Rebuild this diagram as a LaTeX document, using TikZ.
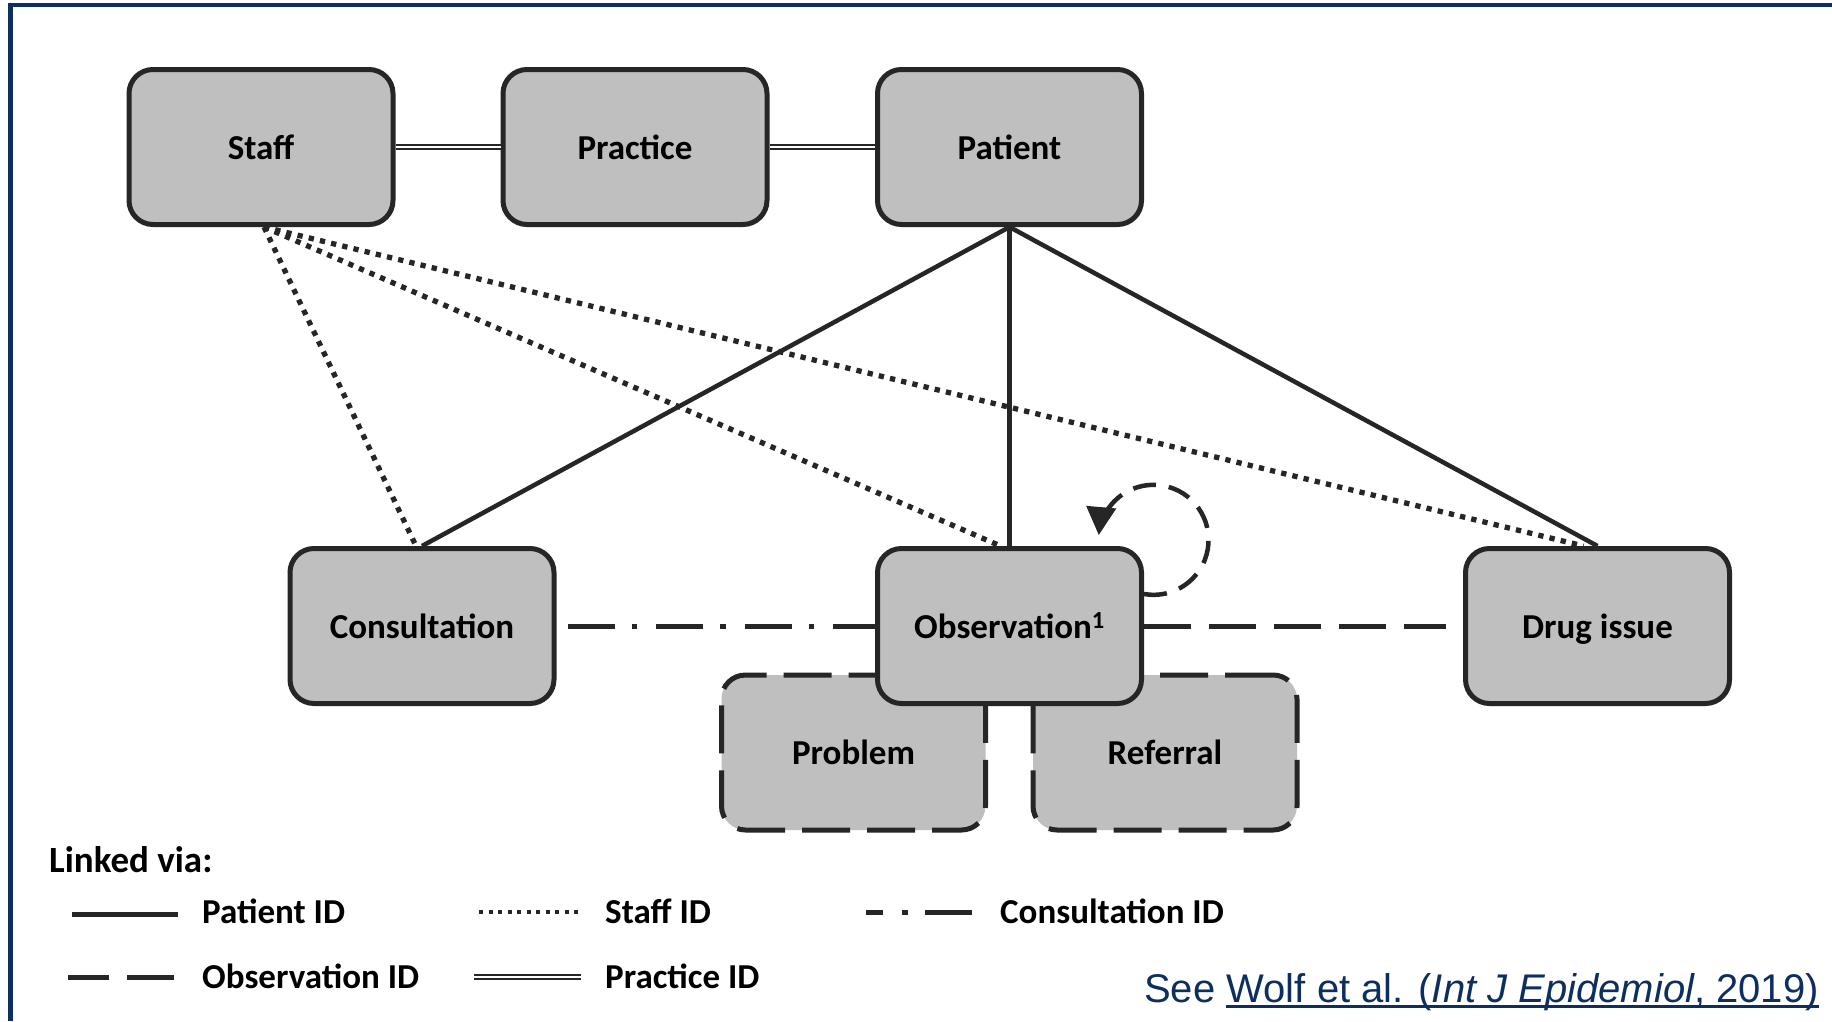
\documentclass[tikz,border=0pt]{standalone}
\usepackage{fontspec}
\setmainfont{Carlito}
\newfontfamily\citefont{Liberation Sans}
\usetikzlibrary{arrows.meta}
\definecolor{ink}{HTML}{262626}
\definecolor{boxgray}{HTML}{BFBFBF}
\definecolor{navy}{RGB}{12,47,96}
\begin{document}
\begin{tikzpicture}[x=1pt,y=-1pt,
  lbl/.style={font=\fontsize{35}{42}\selectfont\bfseries},
  entity/.style={lbl, draw=ink, fill=boxgray, line width=5pt, rounded corners=24pt,
    minimum width=264pt, minimum height=155pt, inner sep=0pt,
    text height=24pt, text depth=0pt},
  optentity/.style={entity, dash pattern=on 48pt off 17pt},
  patientlink/.style={draw=ink, line width=4.5pt},
  stafflink/.style={draw=ink, line width=5.3pt, dash pattern=on 5.3pt off 6.2pt},
  consultlink/.style={draw=ink, line width=5pt, dash pattern=on 47pt off 17pt on 5.5pt off 19pt},
  obslink/.style={draw=ink, line width=5pt, dash pattern=on 47pt off 18pt},
  practicelink/.style={draw=ink, double=white, line width=2.2pt, double distance=2.5pt},
  legendtext/.style={lbl, anchor=west, inner sep=0pt},
  citetext/.style={anchor=base east, inner sep=0pt, text=navy, font=\citefont\fontsize{40}{48}\selectfont}
]
\useasboundingbox (0,0) rectangle (1832,1021);
\fill[white] (0,0) rectangle (1832,1021);

% frame
\draw[navy, line width=4.5pt] (10.5,1021) -- (10.5,5) -- (1832,5);

% entities
\node[entity] (staff) at (261,147) {Staff};
\node[entity] (practice) at (635,147) {Practice};
\node[entity] (patient) at (1009.5,147) {Patient};
\node[optentity] (problem) at (853.5,752.5) {Problem};
\node[optentity] (referral) at (1165,752.5) {Referral};
\node[entity] (consult) at (422,626) {Consultation};
\node[entity] (obs) at (1009.5,626) {Observation\textsuperscript{1}};
\node[entity] (drug) at (1597.5,626) {Drug issue};

% practice ID links
\draw[practicelink] (staff.east) -- (practice.west);
\draw[practicelink] (practice.east) -- (patient.west);

% patient ID links
\draw[patientlink] (patient.south) -- (consult.north);
\draw[patientlink] (patient.south) -- (obs.north);
\draw[patientlink] (patient.south) -- (drug.north);

% staff ID links
\draw[stafflink] ([xshift=3pt]staff.south) -- ([xshift=-6pt]consult.north);
\draw[stafflink] ([xshift=3pt]staff.south) -- ([xshift=-9pt]obs.north);
\draw[stafflink] ([xshift=3pt]staff.south) -- ([xshift=-14pt]drug.north);

% consultation ID link
\draw[consultlink] ([xshift=11pt]consult.east) -- (obs.west);

% observation ID links
\draw[obslink] (obs.east) -- ([xshift=-17.5pt]drug.west);
\coordinate (loopstart) at ([yshift=32pt]obs.east);
\draw[ink, line width=4.5pt, dash pattern=on 23pt off 13pt,
  -{Triangle[length=28pt,width=29pt]}]
  (loopstart) arc[start angle=100, end angle=-175, radius=55];

% legend
\node[legendtext, font=\fontsize{37}{44}\selectfont\bfseries] (legtitle) at (49,860) {Linked via:};

\coordinate (la1) at (72,914);   \coordinate (lb1) at (178,914);
\draw[patientlink, line width=5pt] (la1) -- (lb1);
\node[legendtext] (lt1) at (202,911) {Patient ID};

\coordinate (la2) at (479,912);  \coordinate (lb2) at (578,912);
\draw[draw=ink, line width=4pt, dash pattern=on 4pt off 5.5pt] (la2) -- (lb2);
\node[legendtext] (lt2) at (605,911) {Staff ID};

\coordinate (la3) at (866,912);  \coordinate (lb3) at (972,912);
\draw[draw=ink, line width=5pt, dash pattern=on 17pt off 19pt on 6pt off 17pt on 47pt off 10pt] (la3) -- (lb3);
\node[legendtext] (lt3) at (1000,911) {Consultation ID};

\coordinate (la4) at (68,977);   \coordinate (lb4) at (174,977);
\draw[draw=ink, line width=5pt, dash pattern=on 41pt off 18pt on 47pt off 10pt] (la4) -- (lb4);
\node[legendtext] (lt4) at (202,976) {Observation ID};

\coordinate (la5) at (474,977);  \coordinate (lb5) at (581,977);
\draw[practicelink] (la5) -- (lb5);
\node[legendtext] (lt5) at (605,976) {Practice ID};

% reference
\node[citetext] (cite) at (1819,1002) {Wolf et al. (\textit{Int J Epidemiol}, 2019)};
\node[citetext] (see) at ([xshift=-11pt]cite.base west) {See};
\draw[navy, line width=3pt] ([yshift=-4pt]cite.base west) -- ([yshift=-4pt]cite.base east);
\end{tikzpicture}
\end{document}
